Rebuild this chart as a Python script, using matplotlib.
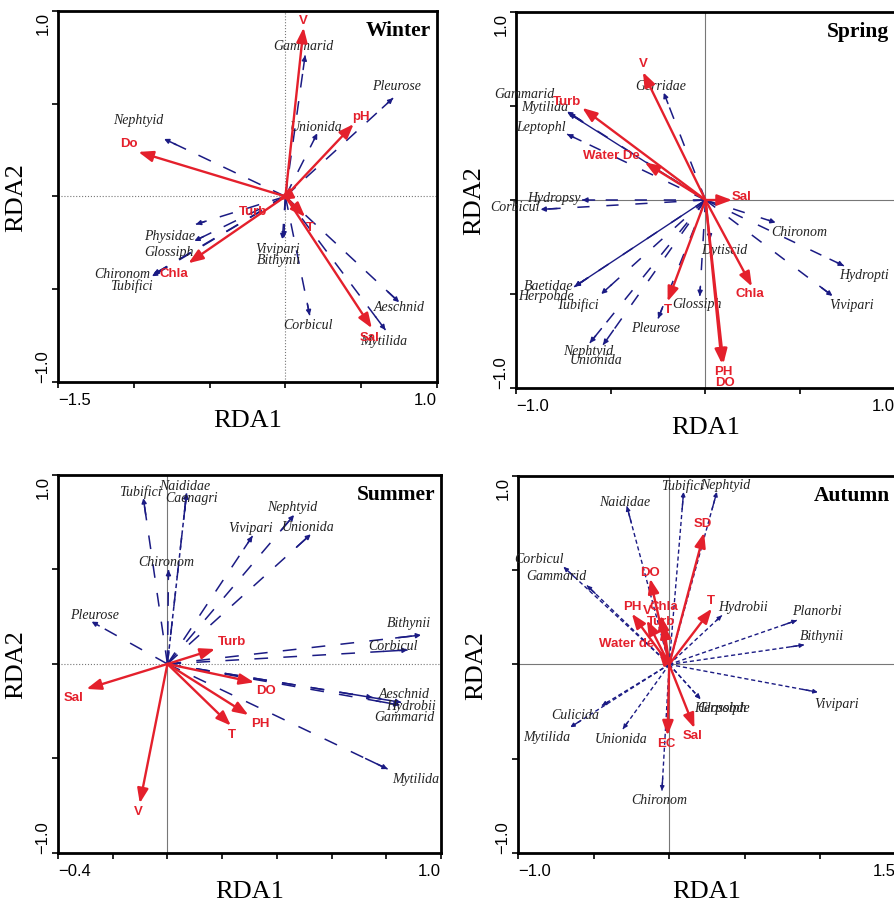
import matplotlib
matplotlib.use("Agg")
import matplotlib.pyplot as plt

RED = "#e4202c"
BLUE = "#1b1b84"

# ---- Winter ----
winter_env = ["V", "pH", "Do", "Turb", "T", "Sal", "Chla"]
winter_env_x = [0.12, 0.45, -0.97, -0.05, 0.13, 0.57, -0.64]
winter_env_y = [0.91, 0.39, 0.24, -0.02, -0.11, -0.71, -0.36]
winter_sp = ["Gammarid", "Pleurose", "Unionida", "Nephtyid", "Physidae", "Glossiph",
             "Chironom", "Tubifici", "Vivipari", "Bithynii", "Corbicul", "Aeschnid", "Mytilida"]
winter_sp_x = [0.13, 0.71, 0.21, -0.80, -0.59, -0.60, -0.88, -0.87, -0.02, -0.01, 0.16, 0.75, 0.66]
winter_sp_y = [0.76, 0.53, 0.34, 0.31, -0.15, -0.24, -0.43, -0.42, -0.23, -0.22, -0.64, -0.57, -0.72]

# ---- Spring ----
spring_env = ["V", "Turb", "Water De", "Sal", "Chla", "T", "PH", "DO"]
spring_env_x = [-0.33, -0.65, -0.32, 0.14, 0.245, -0.20, 0.095, 0.086]
spring_env_y = [0.68, 0.49, 0.20, 0.0, -0.46, -0.54, -0.87, -0.87]
spring_sp = ["Gerridae", "Gammarid", "Mytilida", "Leptophl", "Hydropsy", "Corbicul", "Baetidae",
             "Herpobde", "Tubifici", "Nephtyid", "Unionida", "Pleurose", "Glossiph", "Dytiscid",
             "Chironom", "Hydropti", "Vivipari"]
spring_sp_x = [-0.22, -0.73, -0.72, -0.73, -0.65, -0.87, -0.69, -0.69, -0.55, -0.61, -0.54,
               -0.25, -0.03, 0.025, 0.37, 0.73, 0.67]
spring_sp_y = [0.57, 0.47, 0.46, 0.35, 0.0, -0.05, -0.46, -0.46, -0.50, -0.76, -0.77,
               -0.63, -0.51, -0.21, -0.12, -0.35, -0.51]
spring_solid = ["Mytilida", "Baetidae"]

# ---- Summer ----
summer_env = ["Turb", "Sal", "DO", "PH", "T", "V"]
summer_env_x = [0.174, -0.296, 0.317, 0.296, 0.232, -0.101]
summer_env_y = [0.079, -0.132, -0.097, -0.270, -0.326, -0.737]
summer_sp = ["Tubifici", "Naididae", "Caenagri", "Nephtyid", "Vivipari", "Unionida", "Chironom",
             "Pleurose", "Bithynii", "Corbicul", "Aeschnid", "Hydrobii", "Gammarid", "Mytilida"]
summer_sp_x = [-0.088, 0.07, 0.07, 0.463, 0.311, 0.524, 0.004, -0.277, 0.927, 0.878, 0.75,
               0.854, 0.848, 0.805]
summer_sp_y = [0.877, 0.903, 0.903, 0.788, 0.677, 0.686, 0.497, 0.224, 0.153, 0.074, -0.178,
               -0.203, -0.217, -0.556]
summer_short = ["Caenagri"]

# ---- Autumn ----
autumn_env = ["SD", "DO", "PH", "V", "Chla", "Turb", "Water de", "T", "EC", "Sal"]
autumn_env_x = [0.231, -0.126, -0.247, -0.148, -0.055, -0.037, -0.070, 0.282, -0.011, 0.167]
autumn_env_y = [0.699, 0.455, 0.269, 0.234, 0.260, 0.216, 0.074, 0.296, -0.377, -0.338]
autumn_sp = ["Tubifici", "Nephtyid", "Naididae", "Corbicul", "Gammarid", "Hydrobii", "Planorbi",
             "Bithynii", "Vivipari", "Herpobde", "Glossiph", "Culicida", "Mytilida", "Unionida",
             "Chironom"]
autumn_sp_x = [0.095, 0.315, -0.280, -0.698, -0.544, 0.348, 0.844, 0.892, 0.982, 0.205, 0.205,
               -0.445, -0.654, -0.306, -0.048]
autumn_sp_y = [0.915, 0.915, 0.839, 0.517, 0.419, 0.260, 0.234, 0.104, -0.147, -0.182, -0.182,
               -0.218, -0.333, -0.342, -0.669]

# label offsets (pixels) for each text, same order as the names
winter_env_off = [(0, 8), (7, 8), (-9, 9), (-25, -11), (5, -10), (-2, -9), (-15, -10)]
winter_sp_off = [(-2, 10), (3, 13), (-1, 7), (-26, 19), (-26, -11), (-25, -11), (-30, 3),
                 (-22, -11), (-5, -9), (-5, -22), (-2, -9), (0, -4), (-2, -10)]
spring_env_off = [(0, 9), (-15, 7), (-33, 7), (10, 4), (-2, -7), (0, -7), (0, -7), (3, -18)]
spring_sp_off = [(-3, 7), (-43, 18), (-24, 7), (-26, 8), (-28, 3), (-26, 3), (-26, 1), (-29, -9),
                 (-24, -10), (-2, -8), (-7, -15), (-3, -9), (-3, -8), (14, -10), (24, -9),
                 (20, -9), (19, -9)]
summer_env_off = [(17, 8), (-13, -8), (12, -8), (12, -8), (1, -8), (-1, -8)]
summer_sp_off = [(-3, 7), (-2, 8), (5, -4), (-2, 9), (-2, 9), (-3, 8), (-2, 9), (3, 7), (-12, 13),
                 (-15, 4), (32, 4), (10, -3), (5, -12), (28, -9)]
autumn_env_off = [(-1, 10), (0, 7), (0, 8), (1, 10), (3, 9), (-3, 3), (-32, 8), (-1, 9), (-1, -7),
                  (-2, -7)]
autumn_sp_off = [(-1, 7), (8, 7), (-2, 5), (-25, 9), (-31, 10), (21, 9), (20, 10), (18, 9),
                 (19, -11), (22, -9), (22, -9), (-27, -9), (-24, -9), (-2, -10), (-3, -9)]


def species_arrow(ax, x, y, dashes, lw, head):
    if dashes is None:
        ax.plot([0, x], [0, y], color=BLUE, lw=lw * 0.9, zorder=3)
    else:
        ax.plot([0, x], [0, y], color=BLUE, lw=lw, dashes=dashes, zorder=3,
                solid_capstyle="butt")
    ax.annotate("", xy=(x, y), xytext=(0.9 * x, 0.9 * y),
                arrowprops=dict(arrowstyle="-|>", color=BLUE, lw=lw, shrinkA=0, shrinkB=0,
                                mutation_scale=head), zorder=3)


def panel(ax, title, xlim, xticks, xlab, env, ex, ey, eoff, sp, sx, sy, soff,
          dashes, zero_styles, solid=(), short=(), sp_lw=1.1, head=7):
    ax.set_xlim(*xlim)
    ax.set_ylim(-1.0, 1.0)
    ax.axhline(0, color="#777777", lw=0.8, ls=zero_styles[0], zorder=1)
    ax.axvline(0, color="#777777", lw=0.8, ls=zero_styles[1], zorder=1)

    for name, x, y, off in zip(sp, sx, sy, soff):
        d = dashes
        if name in solid:
            d = None
        elif name in short:
            d = (3, 2)
        species_arrow(ax, x, y, d, sp_lw, head)
        ax.annotate(name, xy=(x, y), xytext=off, textcoords="offset pixels",
                    ha="center", va="center", fontsize=10, style="italic",
                    family="Liberation Serif", color="#222222", zorder=4)

    for name, x, y, off in zip(env, ex, ey, eoff):
        ax.annotate("", xy=(x, y), xytext=(0, 0),
                    arrowprops=dict(arrowstyle="-|>,head_length=0.8,head_width=0.3",
                                    color=RED, lw=1.7, shrinkA=0, shrinkB=0,
                                    mutation_scale=11), zorder=5)
        ax.annotate(name, xy=(x, y), xytext=off, textcoords="offset pixels",
                    ha="center", va="center", fontsize=9.5, fontweight="bold",
                    family="Liberation Sans", color=RED, zorder=6)

    ax.text(0.985, 0.975, title, transform=ax.transAxes, ha="right", va="top",
            fontsize=15.5, fontweight="bold", family="Liberation Serif", zorder=7)

    ax.set_xticks(xticks)
    ax.set_xticklabels([xlab[0]] + [""] * (len(xticks) - 2) + [xlab[1]],
                       fontsize=12, family="Liberation Sans")
    tl = ax.get_xticklabels()
    tl[0].set_ha("left")
    tl[-1].set_ha("right")
    ax.set_yticks([-1.0, -0.5, 0.0, 0.5, 1.0])
    ax.set_yticklabels(["\u22121.0", "", "", "", "1.0"], fontsize=12,
                       family="Liberation Sans", rotation=90)
    yl = ax.get_yticklabels()
    yl[0].set_va("bottom")
    yl[-1].set_va("top")
    ax.tick_params(direction="out", length=4, width=1.2, pad=3)
    ax.tick_params(axis="y", pad=1.5)
    for s in ax.spines.values():
        s.set_linewidth(2.0)
    ax.set_xlabel("RDA1", fontsize=19, family="Liberation Serif", labelpad=2)
    ax.set_ylabel("RDA2", fontsize=19, family="Liberation Serif", labelpad=6)


fig = plt.figure(figsize=(8.95, 9.03), dpi=100)
ax1 = fig.add_axes([0.0648, 0.5759, 0.4235, 0.4109])
ax2 = fig.add_axes([0.5765, 0.5692, 0.4235, 0.4164])
ax3 = fig.add_axes([0.0648, 0.0543, 0.4279, 0.4186])
ax4 = fig.add_axes([0.5788, 0.0543, 0.4223, 0.4175])

panel(ax1, "Winter", (-1.5, 1.0), [-1.5, -1.0, -0.5, 0.0, 0.5, 1.0], ("\u22121.5", "1.0"),
      winter_env, winter_env_x, winter_env_y, winter_env_off,
      winter_sp, winter_sp_x, winter_sp_y, winter_sp_off,
      dashes=(9, 9), zero_styles=(":", ":"))
panel(ax2, "Spring", (-1.0, 1.0), [-1.0, -0.5, 0.0, 0.5, 1.0], ("\u22121.0", "1.0"),
      spring_env, spring_env_x, spring_env_y, spring_env_off,
      spring_sp, spring_sp_x, spring_sp_y, spring_sp_off,
      dashes=(8, 11), zero_styles=("-", "-"), solid=spring_solid)
panel(ax3, "Summer", (-0.4, 1.0), [-0.4, -0.2, 0.0, 0.2, 0.4, 0.6, 0.8, 1.0], ("\u22120.4", "1.0"),
      summer_env, summer_env_x, summer_env_y, summer_env_off,
      summer_sp, summer_sp_x, summer_sp_y, summer_sp_off,
      dashes=(9, 10), zero_styles=(":", "-"), short=summer_short)
panel(ax4, "Autumn", (-1.0, 1.5), [-1.0, -0.5, 0.0, 0.5, 1.0, 1.5], ("\u22121.0", "1.5"),
      autumn_env, autumn_env_x, autumn_env_y, autumn_env_off,
      autumn_sp, autumn_sp_x, autumn_sp_y, autumn_sp_off,
      dashes=(3, 2), zero_styles=("-", "-"), sp_lw=1.0, head=6)

fig.savefig("out.png", dpi=100)
